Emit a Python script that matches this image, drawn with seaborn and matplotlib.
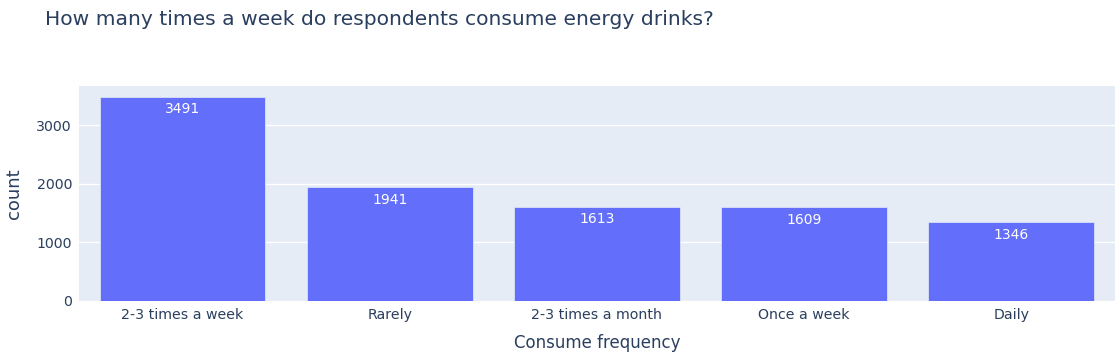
import matplotlib
matplotlib.use("Agg")
import matplotlib.pyplot as plt
import seaborn as sns
import pandas as pd

# data
categories = ["2-3 times a week", "Rarely", "2-3 times a month", "Once a week", "Daily"]
counts = [3491, 1941, 1613, 1609, 1346]

df = pd.DataFrame({"Consume frequency": categories, "count": counts})

sns.set_theme(style="darkgrid", rc={
    "axes.facecolor": "#e5ecf6",
    "grid.color": "white",
    "grid.linewidth": 1.0,
})
plt.rcParams["font.family"] = ["DejaVu Sans"]

text_col = "#2a3f5f"
fig = plt.figure(figsize=(11.2, 3.6), dpi=100)
ax = fig.add_axes([0.0705, 0.164, 0.925, 0.597])

sns.barplot(data=df, x="Consume frequency", y="count", color="#636efa",
            saturation=1, width=0.8, edgecolor="#e5ecf6", linewidth=0.5, ax=ax)

for i, v in enumerate(counts):
    ax.text(i, v - 100, str(v), ha="center", va="top", color="white", fontsize=10)

ax.set_ylim(0, 3670)
ax.set_xlim(-0.5, len(categories) - 0.5)
ax.set_yticks([0, 1000, 2000, 3000])
ax.xaxis.grid(False)
for s in ax.spines.values():
    s.set_visible(False)
ax.tick_params(axis="both", colors="#506784", labelsize=10.2, length=0, pad=5)
for lab in ax.get_xticklabels() + ax.get_yticklabels():
    lab.set_color(text_col)
ax.set_xlabel("Consume frequency", fontsize=12, color=text_col, labelpad=9)
ax.set_ylabel("count", fontsize=13, color=text_col, labelpad=10)

fig.text(0.04, 0.945, "How many times a week do respondents consume energy drinks?",
         fontsize=14.6, color=text_col, ha="left", va="center")

fig.savefig("out.png", dpi=100)
